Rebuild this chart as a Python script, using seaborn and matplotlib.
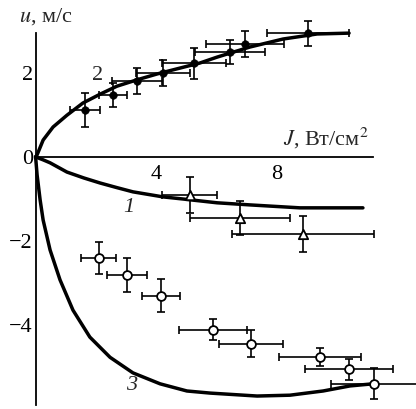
import matplotlib
matplotlib.use("Agg")
import matplotlib.pyplot as plt
import seaborn as sns

# theoretical curves
curve2_x = [0, 0.05, 0.25, 0.58, 1.04, 1.57, 2.14, 2.70, 3.36, 4.03, 4.79, 5.45, 6.02, 7.11, 8.21, 9.34, 10.40]
curve2_y = [0, 0.05, 0.40, 0.71, 0.99, 1.28, 1.49, 1.68, 1.83, 1.97, 2.11, 2.23, 2.37, 2.61, 2.80, 2.92, 2.94]

curve1_x = [0, 0.25, 0.48, 1.04, 1.60, 2.14, 2.70, 3.23, 4.23, 4.89, 6.02, 7.11, 8.77, 10.86]
curve1_y = [0, -0.07, -0.14, -0.36, -0.50, -0.62, -0.73, -0.83, -0.95, -1.00, -1.09, -1.14, -1.21, -1.21]

curve3_x = [0, 0.05, 0.15, 0.25, 0.48, 0.81, 1.24, 1.80, 2.47, 3.23, 4.13, 5.02, 5.79, 7.35, 8.44, 9.54, 10.43, 11.19]
curve3_y = [0, -0.43, -1.02, -1.50, -2.21, -2.92, -3.64, -4.28, -4.76, -5.13, -5.39, -5.56, -5.61, -5.68, -5.66, -5.56, -5.44, -5.39]

# measured points with errors
p2_x = [1.64, 2.57, 3.36, 4.23, 5.26, 6.45, 6.95, 9.04]
p2_y = [1.11, 1.47, 1.80, 1.99, 2.22, 2.49, 2.68, 2.94]
p2_xerr = [0.50, 0.47, 0.83, 0.90, 1.06, 1.16, 1.28, 1.36]
p2_yerr = [0.40, 0.29, 0.31, 0.31, 0.37, 0.29, 0.30, 0.30]

p1_x = [5.12, 6.78, 8.87]
p1_y = [-0.905, -1.45, -1.83]
p1_xerr = [0.91, 1.66, 2.36]
p1_yerr = [0.43, 0.40, 0.42]

p3_x = [2.10, 3.03, 4.16, 5.89, 7.15, 9.44, 10.40, 11.23]
p3_y = [-2.40, -2.80, -3.30, -4.11, -4.44, -4.75, -5.04, -5.39]
p3_xerr = [0.58, 0.65, 0.63, 1.13, 1.05, 1.36, 1.46, 1.44]
p3_yerr = [0.37, 0.40, 0.39, 0.25, 0.32, 0.21, 0.25, 0.37]

xticks = [2, 4, 6, 8, 10]
xtick_labels = ["", "4", "", "8", ""]
yticks = [2, 0, -2, -4]
ytick_labels = ["2", "0", "\u22122", "\u22124"]

sns.set_style("white")
plt.rcParams["font.family"] = ["Liberation Serif", "DejaVu Serif"]
plt.rcParams["mathtext.fontset"] = "stix"

fig = plt.figure(figsize=(4.16, 4.09), dpi=100)
ax = fig.add_axes([0, 0, 1, 1])
ax.set_xlim(-1.181, 12.621)
ax.set_ylim(-5.988, 3.727)

for cx, cy in [(curve2_x, curve2_y), (curve1_x, curve1_y), (curve3_x, curve3_y)]:
    sns.lineplot(x=cx, y=cy, sort=False, color="black", linewidth=2.5, ax=ax, zorder=2)

err_kw = dict(fmt="none", ecolor="black", elinewidth=1.2, capsize=3, capthick=1.2, zorder=3)
ax.errorbar(p2_x, p2_y, xerr=p2_xerr, yerr=p2_yerr, **err_kw)
ax.errorbar(p1_x, p1_y, xerr=p1_xerr, yerr=p1_yerr, **err_kw)
ax.errorbar(p3_x, p3_y, xerr=p3_xerr, yerr=p3_yerr, **err_kw)

sns.scatterplot(x=p2_x, y=p2_y, marker="o", s=30, color="black", edgecolor="black", ax=ax, zorder=4)
sns.scatterplot(x=p1_x, y=p1_y, marker="^", s=45, color="white", edgecolor="black", linewidth=1.3, ax=ax, zorder=4)
sns.scatterplot(x=p3_x, y=p3_y, marker="o", s=40, color="white", edgecolor="black", linewidth=1.3, ax=ax, zorder=4)

# axes through the origin
for s in ["top", "right"]:
    ax.spines[s].set_visible(False)
ax.spines["left"].set_position(("data", 0))
ax.spines["bottom"].set_position(("data", 0))
ax.spines["left"].set_bounds(-5.89, 2.94)
ax.spines["bottom"].set_bounds(0, 11.18)
for s in ["left", "bottom"]:
    ax.spines[s].set_linewidth(1.3)
    ax.spines[s].set_color("black")

ax.set_xticks(xticks)
ax.set_xticklabels(xtick_labels)
ax.set_yticks(yticks)
ax.set_yticklabels(ytick_labels)
ax.tick_params(axis="x", direction="in", length=4, width=1.2, pad=6, labelsize=16, colors="black")
ax.tick_params(axis="y", direction="in", length=4, width=1.2, pad=2, labelsize=16, colors="black")

ax.text(-0.55, 3.33, "$u$, м/с", fontsize=16, ha="left", va="center")
ax.text(8.2, 0.45, "$J$, Вт/см$^2$", fontsize=16, ha="left", va="center")

ax.text(2.07, 1.93, "2", fontsize=16, ha="center", va="center")
ax.text(3.1, -1.2, "1", fontsize=16, ha="center", va="center", style="italic")
ax.text(3.17, -5.42, "3", fontsize=16, ha="center", va="center", style="italic")

fig.savefig("out.png", dpi=100)
